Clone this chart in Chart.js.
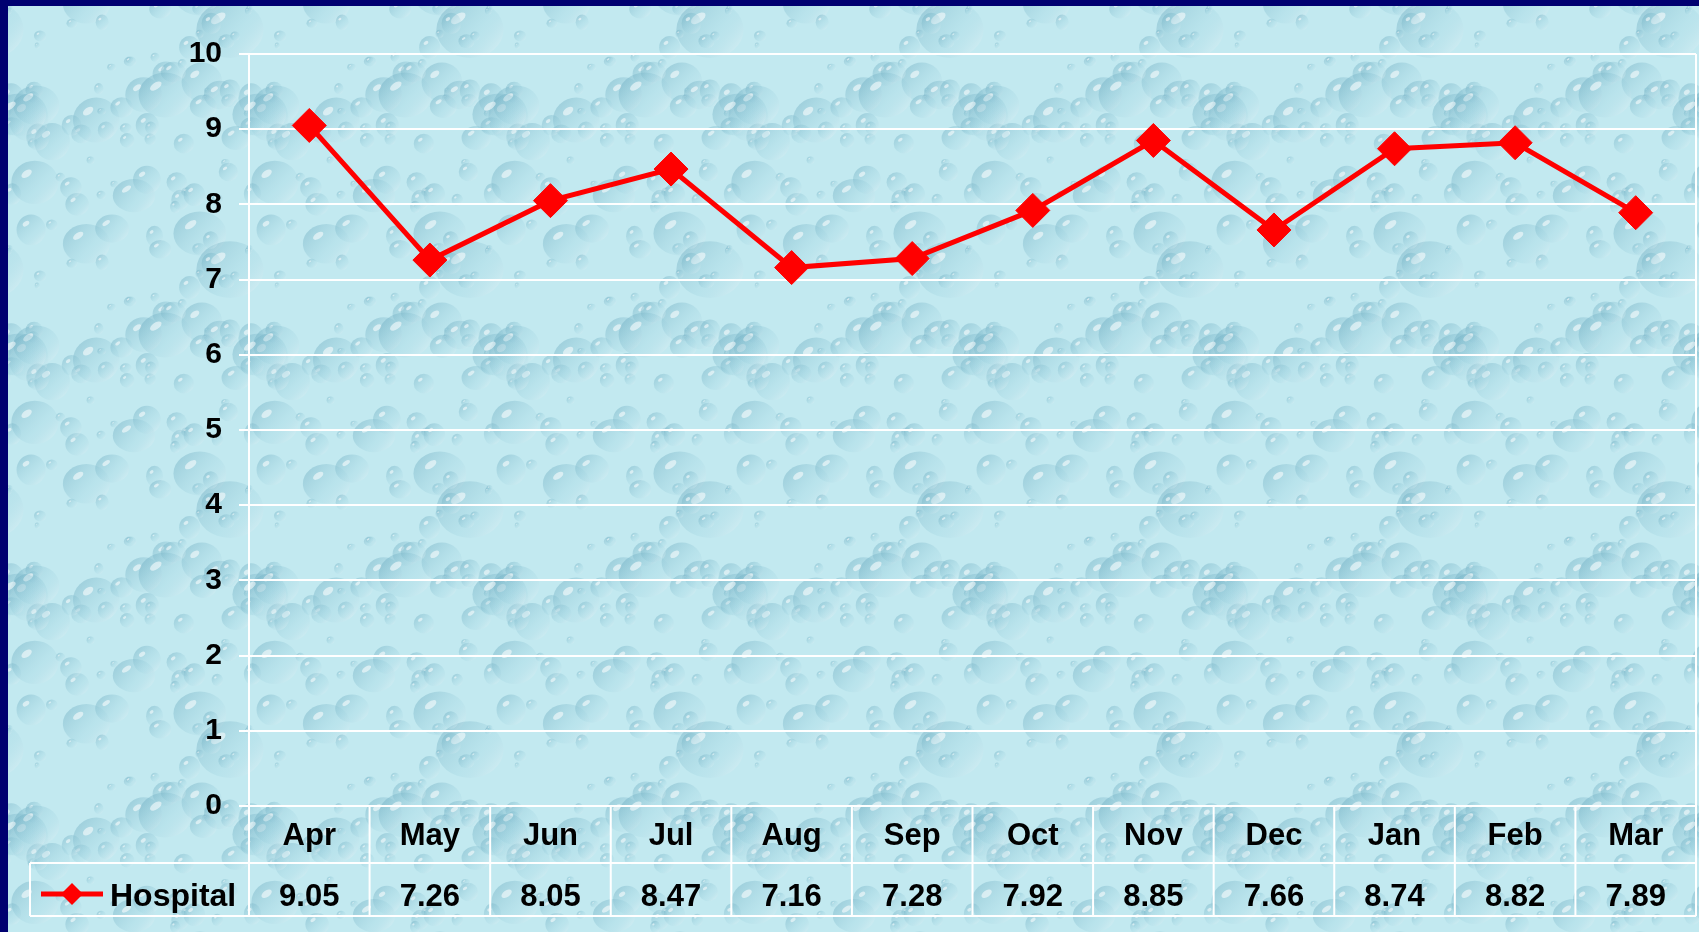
<!DOCTYPE html>
<html>
<head>
<meta charset="utf-8">
<script src="https://cdn.jsdelivr.net/npm/chart.js@4/dist/chart.umd.min.js"></script>
<style>
    html, body { margin: 0; padding: 0; background: #000070; overflow: hidden; }
    #frame { position: absolute; left: 8px; top: 6px; width: 1691px; height: 926px; background-color: #c2e9f0; }
    #wrap { position: absolute; left: 0; top: 0; width: 1699px; height: 932px; }
</style>
</head>
<body>
<div id="frame"></div>
<div id="wrap"><canvas id="chart"></canvas></div>
<script>
// Chart data
const categories = ['Apr', 'May', 'Jun', 'Jul', 'Aug', 'Sep', 'Oct', 'Nov', 'Dec', 'Jan', 'Feb', 'Mar'];
const hospitalValues = [9.05, 7.26, 8.05, 8.47, 7.16, 7.28, 7.92, 8.85, 7.66, 8.74, 8.82, 7.89];
const yTicks = [0, 1, 2, 3, 4, 5, 6, 7, 8, 9, 10];
const seriesName = 'Hospital';

const FONT = '"Liberation Sans", Arial, sans-serif';
const RED = '#ff0000';

// Water drop texture for the background
function drawDrop(g, x, y, rx, ry) {
    const grad = g.createLinearGradient(x - rx, y - ry, x + rx, y + ry);
    grad.addColorStop(0, 'rgba(80,150,175,0.40)');
    grad.addColorStop(0.6, 'rgba(150,205,220,0.20)');
    grad.addColorStop(1, 'rgba(255,255,255,0.45)');
    g.beginPath();
    g.ellipse(x, y, rx, ry, 0, 0, Math.PI * 2);
    g.fillStyle = grad;
    g.fill();
    g.beginPath();
    g.ellipse(x - rx * 0.35, y - ry * 0.4, rx * 0.25, ry * 0.15, -0.6, 0, Math.PI * 2);
    g.fillStyle = 'rgba(255,255,255,0.55)';
    g.fill();
}

function makeDropTile() {
    const size = 240;
    const c = document.createElement('canvas');
    c.width = size; c.height = size;
    const g = c.getContext('2d');
    g.fillStyle = '#c2e9f0';
    g.fillRect(0, 0, size, size);
    let seed = 11;
    const rnd = () => (seed = (seed * 16807) % 2147483647) / 2147483647;
    for (let i = 0; i < 80; i++) {
        const x = rnd() * size, y = rnd() * size;
        const r = 3 + rnd() * rnd() * 26;
        const rx = r * (0.8 + rnd() * 0.5);
        for (const dx of [-size, 0, size]) {
            for (const dy of [-size, 0, size]) {
                drawDrop(g, x + dx, y + dy, rx, r);
            }
        }
    }
    return c.toDataURL();
}

document.getElementById('frame').style.backgroundImage = 'url(' + makeDropTile() + ')';

// Data table under the plot
const HEADER_H = 57;
const ROW_H = 53;
const TABLE_LEFT = 30;

const dataTablePlugin = {
    id: 'dataTable',
    afterDraw(chart) {
        const ctx = chart.ctx;
        const area = chart.chartArea;
        const xScale = chart.scales.x;
        const colW = (area.right - area.left) / categories.length;
        const headBottom = area.bottom + HEADER_H;
        const rowBottom = headBottom + ROW_H;

        ctx.save();
        ctx.strokeStyle = '#ffffff';
        ctx.lineWidth = 2;
        ctx.beginPath();
        // horizontal lines
        ctx.moveTo(TABLE_LEFT, headBottom); ctx.lineTo(area.right, headBottom);
        ctx.moveTo(TABLE_LEFT, rowBottom); ctx.lineTo(area.right, rowBottom);
        // legend cell left edge
        ctx.moveTo(TABLE_LEFT, headBottom); ctx.lineTo(TABLE_LEFT, rowBottom);
        // left axis continuation and column dividers
        for (let i = 0; i <= categories.length; i++) {
            const bx = area.left + i * colW;
            ctx.moveTo(bx, i === 0 || i === categories.length ? area.top : area.bottom);
            ctx.lineTo(bx, rowBottom);
        }
        ctx.stroke();

        // texts
        ctx.fillStyle = '#000000';
        ctx.font = 'bold 31px ' + FONT;
        ctx.textAlign = 'center';
        ctx.textBaseline = 'alphabetic';
        categories.forEach((cat, i) => {
            const cx = xScale.getPixelForValue(i);
            ctx.fillText(cat, cx, area.bottom + 39);
            ctx.fillText(hospitalValues[i].toFixed(2), cx, headBottom + 43);
        });

        // legend key
        const ky = headBottom + 31;
        ctx.strokeStyle = RED;
        ctx.lineWidth = 5;
        ctx.beginPath();
        ctx.moveTo(41, ky); ctx.lineTo(103, ky);
        ctx.stroke();
        ctx.fillStyle = RED;
        ctx.beginPath();
        ctx.moveTo(72, ky - 11); ctx.lineTo(83, ky); ctx.lineTo(72, ky + 11); ctx.lineTo(61, ky);
        ctx.closePath();
        ctx.fill();
        ctx.fillStyle = '#000000';
        ctx.textAlign = 'left';
        ctx.font = 'bold 32px ' + FONT;
        ctx.fillText(seriesName, 110, headBottom + 43);
        ctx.restore();
    }
};

// Initialize chart
document.addEventListener('DOMContentLoaded', function() {
    const ctx = document.getElementById('chart').getContext('2d');
    new Chart(ctx, {
        type: 'line',
        data: {
            labels: categories,
            datasets: [{
                label: seriesName,
                data: hospitalValues,
                borderColor: RED,
                backgroundColor: RED,
                borderWidth: 5,
                pointStyle: 'rectRot',
                pointRadius: 17,
                pointBorderWidth: 1,
                pointBackgroundColor: RED,
                pointBorderColor: RED,
                tension: 0
            }]
        },
        options: {
            responsive: true,
            maintainAspectRatio: false,
            animation: false,
            layout: {
                autoPadding: false,
                padding: { left: 0, top: 54, right: 3, bottom: 126 }
            },
            scales: {
                x: {
                    type: 'category',
                    display: false,
                    offset: true
                },
                y: {
                    min: yTicks[0],
                    max: yTicks[yTicks.length - 1],
                    afterBuildTicks: function(scale) {
                        scale.ticks = yTicks.map(v => ({ value: v }));
                    },
                    afterFit: function(scale) {
                        scale.width = 249;
                    },
                    ticks: {
                        color: '#000000',
                        padding: 17,
                        font: { family: FONT, size: 30, weight: 'bold' }
                    },
                    grid: {
                        color: '#ffffff',
                        lineWidth: 2,
                        tickLength: 10
                    },
                    border: {
                        display: true,
                        color: '#ffffff',
                        width: 2
                    }
                }
            },
            plugins: {
                legend: { display: false },
                tooltip: { enabled: false }
            }
        },
        plugins: [dataTablePlugin]
    });
});
</script>
</body>
</html>
